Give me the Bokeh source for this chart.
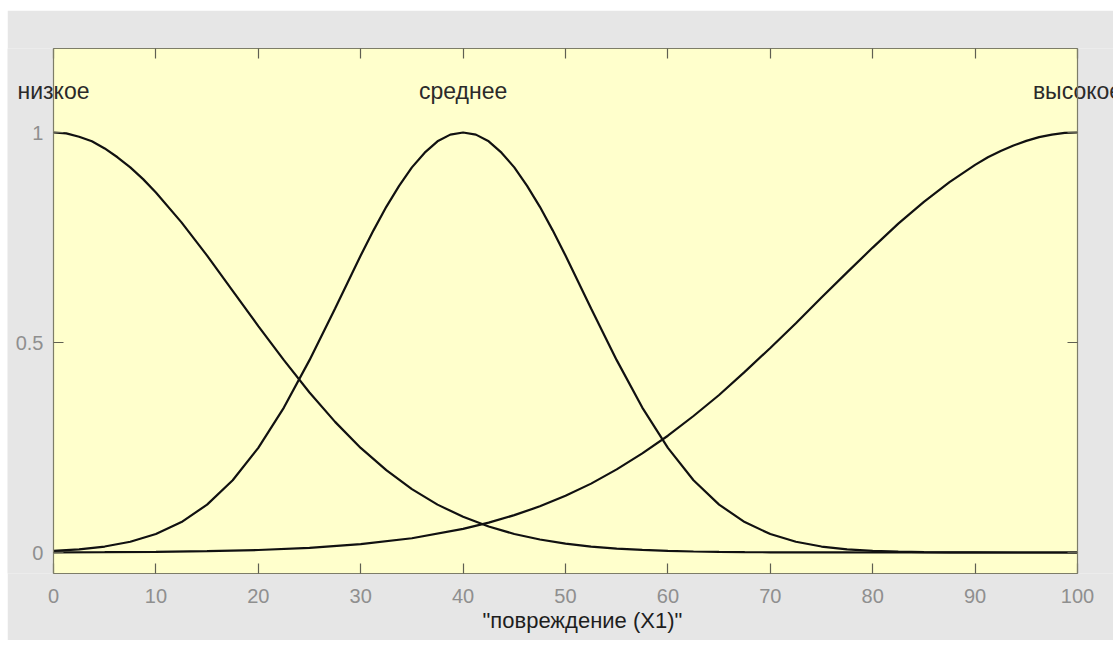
from bokeh.plotting import figure
from bokeh.models import (LinearAxis, FixedTicker, BoxAnnotation, CustomJSTickFormatter,
                          Range1d, ColumnDataSource, Title)
from bokeh.core.properties import value
from bokeh.embed import file_html
from bokeh.resources import INLINE

# ---- data ----
x_low = [0, 1.25, 2.5, 3.75, 5, 6.25, 7.5, 8.75, 10, 12.5, 15, 17.5, 20, 22.5, 25, 27.5,
         30, 32.5, 35, 37.5, 40, 42.5, 45, 47.5, 50, 52.5, 55, 57.5, 60, 62.5, 65, 67.5,
         70, 72.5, 75, 77.5, 80, 85, 90, 95, 100]
low = [1.0, 0.998, 0.990, 0.979, 0.962, 0.941, 0.917, 0.889, 0.857, 0.786, 0.707, 0.623,
       0.539, 0.458, 0.381, 0.311, 0.249, 0.196, 0.151, 0.114, 0.085, 0.062, 0.044, 0.031,
       0.021, 0.014, 0.0094, 0.0061, 0.0039, 0.0024, 0.0015, 0.0009, 0.0005, 0.0003,
       0.0002, 0.0001, 0.0, 0.0, 0.0, 0.0, 0.0]

x_med = [0, 2.5, 5, 7.5, 10, 12.5, 15, 17.5, 20, 22.5, 25, 27.5, 28.75, 30, 31.25, 32.5,
         33.75, 35, 36.25, 37.5, 38.75, 40, 41.25, 42.5, 43.75, 45, 46.25, 47.5, 48.75,
         50, 51.25, 52.5, 55, 57.5, 60, 62.5, 65, 67.5, 70, 72.5, 75, 77.5, 80, 82.5, 85,
         87.5, 90, 95, 100]
medium = [0.0039, 0.0076, 0.0142, 0.0255, 0.0439, 0.0724, 0.114, 0.172, 0.249, 0.345,
          0.458, 0.581, 0.644, 0.707, 0.767, 0.823, 0.873, 0.917, 0.952, 0.979, 0.995,
          1.0, 0.995, 0.979, 0.952, 0.917, 0.873, 0.823, 0.767, 0.707, 0.644, 0.581,
          0.458, 0.345, 0.249, 0.172, 0.114, 0.0724, 0.0439, 0.0255, 0.0142, 0.0076,
          0.0039, 0.0019, 0.0009, 0.0004, 0.0002, 0.0, 0.0]

x_high = [0, 5, 10, 15, 20, 25, 30, 35, 40, 42.5, 45, 47.5, 50, 52.5, 55, 57.5, 60, 62.5,
          65, 67.5, 70, 72.5, 75, 77.5, 80, 82.5, 85, 87.5, 90, 91.25, 92.5, 93.75, 95,
          96.25, 97.5, 98.75, 100]
high = [0.0003, 0.0007, 0.0015, 0.0031, 0.0060, 0.0111, 0.0198, 0.0340, 0.0561, 0.0710,
        0.0889, 0.110, 0.135, 0.164, 0.198, 0.236, 0.278, 0.325, 0.375, 0.430, 0.487,
        0.546, 0.607, 0.667, 0.726, 0.783, 0.835, 0.882, 0.923, 0.941, 0.956, 0.969,
        0.980, 0.989, 0.995, 0.999, 1.0]

mf_names = ["низкое", "среднее", "высокое"]
mf_centers = [0, 40, 100]
label_level = [1.1, 1.1, 1.1]

x_ticks = [0, 10, 20, 30, 40, 50, 60, 70, 80, 90, 100]
y_ticks = [0, 0.5, 1]
x_label = '"повреждение (X1)"'

X_MIN, X_MAX = 0, 100
Y_MIN, Y_MAX = -0.05, 1.2

FONT = "Liberation Sans"
TICK_COLOR = "#5f5f52"
FRAME_COLOR = "#7d7d68"
GREY = "#e6e6e6"

# the frame is wider than the axes box so the curve labels can overhang it
p = figure(width=1106, height=630, output_backend="svg", toolbar_location=None,
           x_range=Range1d(-4.492, 103.516), y_range=Range1d(Y_MIN, Y_MAX),
           min_border_left=0, min_border_top=38, min_border_right=0,
           min_border_bottom=67)
p.margin = (10, 0, 0, 7)
p.background_fill_color = GREY
p.border_fill_color = GREY
p.outline_line_color = None
p.grid.visible = False

p.add_layout(BoxAnnotation(left=X_MIN, right=X_MAX, bottom=Y_MIN, top=Y_MAX,
                           fill_color="#ffffcc", fill_alpha=1.0, line_color=None,
                           level="underlay"))

for xs, ys in ((x_low, low), (x_med, medium), (x_high, high)):
    p.line(xs, ys, line_color="#111111", line_width=2.2)

src = ColumnDataSource(dict(x=mf_centers, y=label_level, t=mf_names))
p.text(x="x", y="y", text="t", source=src, text_align="center",
       text_baseline="middle", text_font=value(FONT), text_font_size="23px",
       text_color="#2a2a2a")

def style(ax, ticks, bounds, show_labels):
    ax.ticker = FixedTicker(ticks=ticks)
    ax.bounds = bounds
    ax.axis_line_color = FRAME_COLOR
    ax.axis_line_width = 1.2
    ax.major_tick_in = 10
    ax.major_tick_out = 0
    ax.major_tick_line_color = TICK_COLOR
    ax.major_tick_line_width = 1.2
    ax.minor_tick_line_color = None
    ax.major_label_text_font = FONT
    ax.major_label_text_font_size = "20px"
    ax.major_label_text_color = "#8f8f8f"
    if not show_labels:
        ax.formatter = CustomJSTickFormatter(code="return ''")

bottom = p.xaxis[0]
style(bottom, x_ticks, (X_MIN, X_MAX), True)
bottom.major_label_standoff = 15

p.add_layout(Title(text=x_label, align="left", offset=475, text_font=FONT,
                   text_font_size="22px", text_font_style="normal",
                   text_color="#1e1e1e", standoff=0), "below")

left = p.yaxis[0]
style(left, y_ticks, (Y_MIN, Y_MAX), True)
left.fixed_location = X_MIN
left.major_label_standoff = 10

top = LinearAxis()
style(top, x_ticks, (X_MIN, X_MAX), False)
p.add_layout(top, "above")

right = LinearAxis(fixed_location=X_MAX)
style(right, y_ticks, (Y_MIN, Y_MAX), False)
p.add_layout(right, "right")

open("out.html", "w").write(file_html(p, INLINE))
